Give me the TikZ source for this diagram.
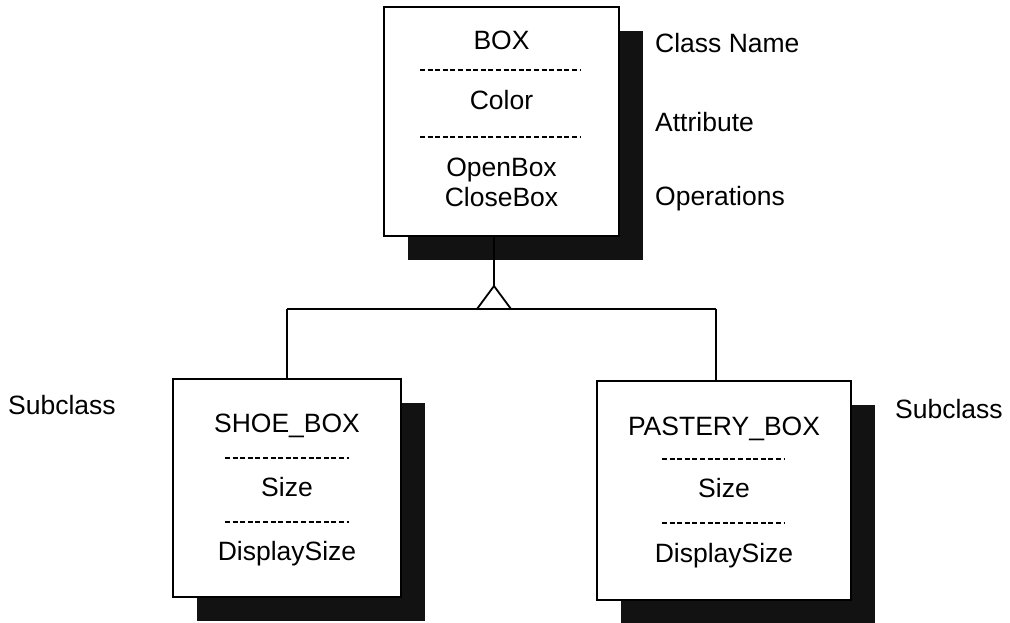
\documentclass[tikz,border=0pt]{standalone}
\usepackage{fontspec}
\setmainfont{Liberation Sans}
\usetikzlibrary{shadows}
\begin{document}
\begin{tikzpicture}[x=1pt,y=-1pt,
  classbox/.style={draw, line width=1.7pt, fill=white, inner sep=0pt,
    drop shadow={shadow xshift=24pt, shadow yshift=-24pt, fill=black!93, opacity=1}},
  lbl/.style={font=\fontsize{26.5}{30}\selectfont, inner sep=0pt},
  sep/.style={line width=2.2pt, dash pattern=on 5pt off 2.6pt},
  link/.style={line width=1.8pt}]
\useasboundingbox (0,0) rectangle (1010,623);

% class boxes
\node[classbox, minimum width=235pt, minimum height=229pt] (box) at (501.5,121.5) {};
\node[classbox, minimum width=228pt, minimum height=218pt] (shoe) at (287,488) {};
\node[classbox, minimum width=254pt, minimum height=219pt] (pastry) at (724,490.5) {};

% BOX compartments
\node[lbl, anchor=base] (boxname) at (501.5,50) {BOX};
\draw[sep] (420,70) -- (581,70);
\node[lbl, anchor=base] (boxattr) at (501.5,110) {Color};
\draw[sep] (420,137) -- (581,137);
\node[lbl, anchor=base] (boxop1) at (501.5,177) {OpenBox};
\node[lbl, anchor=base] (boxop2) at (501.5,207) {CloseBox};

% SHOE_BOX compartments
\node[lbl, anchor=base] (shoename) at (287,432) {SHOE\_BOX};
\draw[sep] (225,458) -- (349,458);
\node[lbl, anchor=base] (shoeattr) at (287,496) {Size};
\draw[sep] (225,522) -- (349,522);
\node[lbl, anchor=base] (shoeop) at (287,560) {DisplaySize};

% PASTERY_BOX compartments
\node[lbl, anchor=base] (pastryname) at (724,435) {PASTERY\_BOX};
\draw[sep] (662,459) -- (785,459);
\node[lbl, anchor=base] (pastryattr) at (724,497) {Size};
\draw[sep] (662,523) -- (785,523);
\node[lbl, anchor=base] (pastryop) at (724,562) {DisplaySize};

% annotations
\node[lbl, anchor=base west] (lname) at (655,53) {Class Name};
\node[lbl, anchor=base west] (lattr) at (655,132) {Attribute};
\node[lbl, anchor=base west] (lops) at (655,205) {Operations};
\node[lbl, anchor=base west] (lsubl) at (8,414) {Subclass};
\node[lbl, anchor=base west] (lsubr) at (895,418) {Subclass};

% generalization: triangle and tree
\coordinate (apex) at (494,286);
\coordinate (bl) at (477,309);
\coordinate (br) at (511,309);
\coordinate (jl) at (287,309);
\coordinate (jr) at (716,309);
\draw[link] (apex) -- (apex |- box.south);
\draw[link] (jl) -- (jr);
\draw[link, line join=miter, fill=white] (apex) -- (bl) -- (br) -- cycle;
\draw[link] (jl) -- (jl |- shoe.north);
\draw[link] (jr) -- (jr |- pastry.north);
\end{tikzpicture}
\end{document}
